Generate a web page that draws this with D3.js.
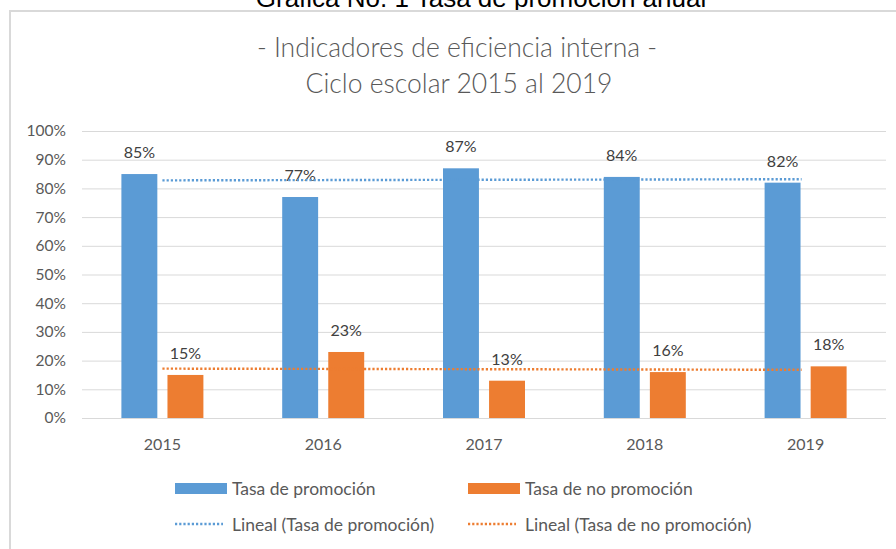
<!DOCTYPE html>
<html>
<head>
<meta charset="utf-8">
<script src="https://cdn.jsdelivr.net/npm/d3@7"></script>
<style>
  body { margin: 0; background: #fff; }
  text { font-family: Lato, "Open Sans", sans-serif; }
</style>
</head>
<body>
<svg id="chart" width="896" height="549"></svg>
<script>
const years = ["2015", "2016", "2017", "2018", "2019"];
const promocion = [0.85, 0.77, 0.87, 0.84, 0.82];
const noPromocion = [0.15, 0.23, 0.13, 0.16, 0.18];
const seriesNames = ["Tasa de promoción", "Tasa de no promoción"];
const trendNames = ["Lineal (Tasa de promoción)", "Lineal (Tasa de no promoción)"];
const yTicks = [0, 0.1, 0.2, 0.3, 0.4, 0.5, 0.6, 0.7, 0.8, 0.9, 1];

const colors = ["#5b9bd5", "#ed7d31"];
const svg = d3.select("#chart");

// outer caption (cut at top, as in the source) and chart frame
svg.append("text")
    .attr("x", 481).attr("y", 7)
    .attr("text-anchor", "middle")
    .style("font-family", "'Liberation Sans', Arial, sans-serif")
    .style("font-size", "26px")
    .attr("fill", "#000")
    .text("Gráfica No. 1 Tasa de promoción anual");

svg.append("rect")
    .attr("x", 10).attr("y", 11)
    .attr("width", 900).attr("height", 560)
    .attr("fill", "#fff")
    .attr("stroke", "#d9d9d9")
    .attr("stroke-width", 2);

const title = svg.append("text")
    .attr("text-anchor", "middle")
    .attr("fill", "#595959")
    .style("font-size", "26.5px")
    .style("font-weight", 300);
title.append("tspan").attr("x", 457).attr("y", 57).text("- Indicadores de eficiencia interna -");
title.append("tspan").attr("x", 459).attr("y", 93).text("Ciclo escolar 2015 al 2019");

const x = d3.scaleBand().domain(years).range([82, 886]);
const xSub = d3.scaleBand().domain([0, 1]).range([-41, 41]).paddingInner(0.22);
const y = d3.scaleLinear().domain([0, 1]).range([418, 131]);

// y axis + gridlines
const yAxis = svg.append("g")
    .attr("transform", "translate(82,0)")
    .call(d3.axisLeft(y).tickValues(yTicks).tickFormat(d3.format(".0%"))
        .tickSize(-804).tickPadding(16));
yAxis.select(".domain").remove();
yAxis.selectAll(".tick line").attr("stroke", "#d9d9d9");
yAxis.selectAll(".tick text")
    .attr("fill", "#595959")
    .style("font-size", "15.5px")
    .style("font-family", "Lato, sans-serif");

// x axis labels
const xAxis = svg.append("g")
    .attr("transform", "translate(0,418)")
    .call(d3.axisBottom(x).tickSize(0).tickPadding(21));
xAxis.select(".domain").remove();
xAxis.selectAll(".tick text")
    .attr("fill", "#595959")
    .style("font-size", "16px")
    .style("font-family", "Lato, sans-serif");

const series = [promocion, noPromocion];

// bars + labels
series.forEach((vals, s) => {
    const g = svg.append("g");
    g.selectAll("rect")
        .data(vals)
        .join("rect")
        .attr("x", (d, i) => x(years[i]) + x.bandwidth() / 2 + xSub(s))
        .attr("width", xSub.bandwidth())
        .attr("y", d => y(d))
        .attr("height", d => y(0) - y(d))
        .attr("fill", colors[s]);
    g.selectAll("text")
        .data(vals)
        .join("text")
        .attr("x", (d, i) => x(years[i]) + x.bandwidth() / 2 + xSub(s) + xSub.bandwidth() / 2)
        .attr("y", d => y(d) - 16)
        .attr("text-anchor", "middle")
        .attr("fill", "#404040")
        .style("font-size", "16px")
        .text(d => d3.format(".0%")(d));
});

// linear trendlines (least squares over category index)
function linreg(vals) {
    const xs = vals.map((d, i) => i + 1);
    const mx = d3.mean(xs), my = d3.mean(vals);
    const b = d3.sum(xs, (xi, i) => (xi - mx) * (vals[i] - my)) / d3.sum(xs, xi => (xi - mx) ** 2);
    const a = my - b * mx;
    return xs.map(xi => a + b * xi);
}

const line = d3.line()
    .x((d, i) => x(years[i]) + x.bandwidth() / 2 - (i === years.length - 1 ? 4 : 0))
    .y(d => y(d));

series.forEach((vals, s) => {
    svg.append("path")
        .attr("d", line(linreg(vals)))
        .attr("fill", "none")
        .attr("stroke", colors[s])
        .attr("stroke-width", 2.4)
        .attr("stroke-dasharray", "2.2,2");
});

// legend
const legendX = [175, 468];
seriesNames.forEach((name, s) => {
    svg.append("rect")
        .attr("x", legendX[s]).attr("y", 483)
        .attr("width", 52).attr("height", 11)
        .attr("fill", colors[s]);
    svg.append("text")
        .attr("x", legendX[s] + 57).attr("y", 495)
        .attr("fill", "#595959")
        .style("font-size", "17.5px")
        .text(name);
});
trendNames.forEach((name, s) => {
    svg.append("line")
        .attr("x1", legendX[s]).attr("x2", legendX[s] + 48)
        .attr("y1", 524).attr("y2", 524)
        .attr("stroke", colors[s])
        .attr("stroke-width", 2.4)
        .attr("stroke-dasharray", "2.2,2");
    svg.append("text")
        .attr("x", legendX[s] + 57).attr("y", 531)
        .attr("fill", "#595959")
        .style("font-size", "17.5px")
        .text(name);
});
</script>
</body>
</html>
